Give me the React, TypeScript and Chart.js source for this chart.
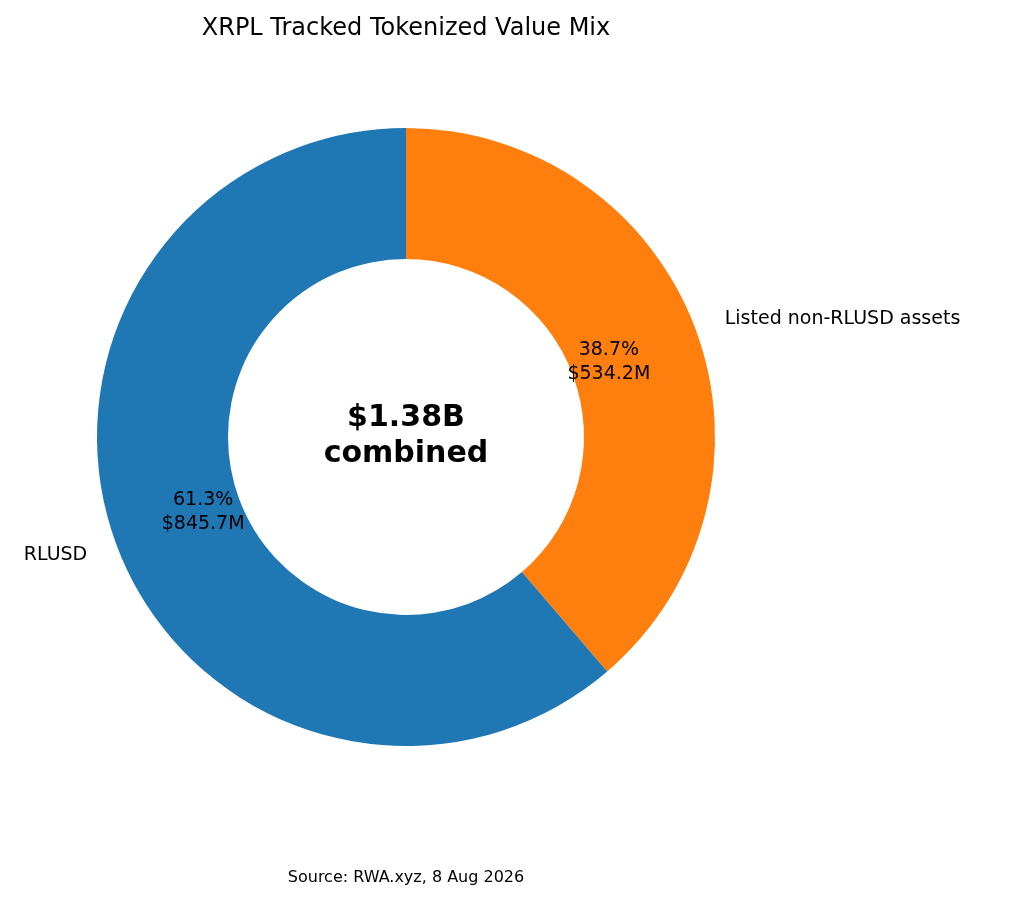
import React, { useEffect, useRef } from "react";
import { Chart, registerables } from "chart.js";
Chart.register(...registerables);

const labels = ["Listed non-RLUSD assets", "RLUSD"];
const values = [534.2, 845.7];
const valueText = ["$534.2M", "$845.7M"];
const colors = ["#ff7f0e", "#1f77b4"];
const title = "XRPL Tracked Tokenized Value Mix";
const centerLines = ["$1.38B", "combined"];
const source = "Source: RWA.xyz, 8 Aug 2026";

const FONT = "'DejaVu Sans', sans-serif";

const textPlugin = {
  id: "texts",
  afterDraw(chart: any) {
    const ctx = chart.ctx;
    const meta = chart.getDatasetMeta(0);
    const total = values.reduce((a, b) => a + b, 0);
    let cx = 0, cy = 0;
    ctx.save();
    ctx.fillStyle = "#000";
    meta.data.forEach((arc: any, i: number) => {
      const p = arc.getProps(["x", "y", "startAngle", "endAngle", "outerRadius"], true);
      cx = p.x; cy = p.y;
      const mid = (p.startAngle + p.endAngle) / 2;
      const c = Math.cos(mid), s = Math.sin(mid);
      const rIn = p.outerRadius * 0.7;
      ctx.font = `19px ${FONT}`;
      ctx.textAlign = "center";
      ctx.textBaseline = "middle";
      const px = p.x + rIn * c, py = p.y + rIn * s;
      ctx.fillText(((values[i] / total) * 100).toFixed(1) + "%", px, py - 12);
      ctx.fillText(valueText[i], px, py + 12);
      const rOut = p.outerRadius * 1.1;
      const ox = p.x + rOut * c, oy = p.y + rOut * s;
      ctx.textAlign = c >= 0 ? "left" : "right";
      ctx.fillText(labels[i], ox, oy);
    });
    ctx.font = `bold 30px ${FONT}`;
    ctx.textAlign = "center";
    ctx.fillText(centerLines[0], cx, cy - 19);
    ctx.fillText(centerLines[1], cx, cy + 17);
    ctx.font = `24px ${FONT}`;
    ctx.fillText(title, cx, 29);
    ctx.font = `16px ${FONT}`;
    ctx.fillText(source, cx, 878);
    ctx.restore();
  },
};

export default function App() {
  const ref = useRef<HTMLCanvasElement>(null);
  useEffect(() => {
    document.body.style.margin = "0";
    const chart = new Chart(ref.current!, {
      type: "doughnut",
      data: {
        labels,
        datasets: [{ data: values, backgroundColor: colors, borderWidth: 0, hoverOffset: 0 }],
      },
      options: {
        animation: false,
        responsive: false,
        cutout: "57.6%",
        layout: { padding: { left: 97, right: 309, top: 128, bottom: 159 } },
        plugins: { legend: { display: false }, tooltip: { enabled: false }, title: { display: false } },
      },
      plugins: [textPlugin],
    });
    return () => chart.destroy();
  }, []);
  return (
    <div style={{ width: 1024, height: 905, background: "#fff" }}>
      <canvas ref={ref} width={1024} height={905} style={{ width: 1024, height: 905, display: "block" }} />
    </div>
  );
}
